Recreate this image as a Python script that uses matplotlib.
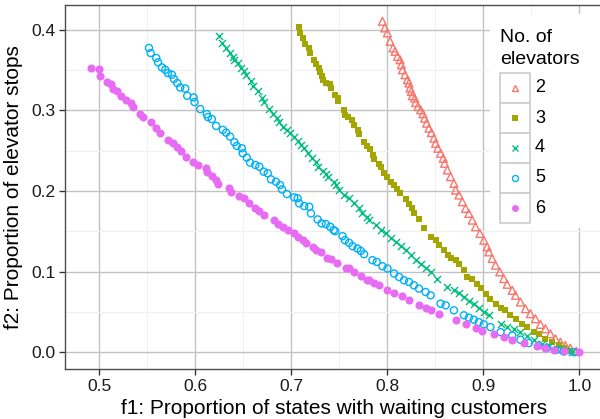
import matplotlib
matplotlib.use("Agg")
import matplotlib.pyplot as plt
from matplotlib.lines import Line2D
from matplotlib.patches import Rectangle
from matplotlib.ticker import MultipleLocator

plt.rcParams['font.family'] = ['Liberation Sans', 'DejaVu Sans']

categories = ["2", "3", "4", "5", "6"]
colors = ["#F8766D", "#A3A500", "#00BF7D", "#00B0F6", "#E76BF3"]

x2 = [0.7949,0.7973,0.8001,0.8028,0.8059,0.8080,0.8105,0.8132,0.8146,0.8157,0.8184,0.8209,0.8225,0.8236,0.8250,0.8260,0.8284,0.8295,0.8319,0.8347,0.8371,0.8388,0.8409,0.8433,0.8458,0.8485,0.8502,0.8526,0.8554,0.8582,0.8596,0.8624,0.8658,0.8693,0.8710,0.8745,0.8780,0.8814,0.8848,0.8884,0.8918,0.8963,0.9004,0.9039,0.9056,0.9091,0.9126,0.9170,0.9212,0.9247,0.9300,0.9334,0.9385,0.9437,0.9489,0.9541,0.9593,0.9645,0.9697,0.9749,0.9801,0.9853,0.9904,0.9966]
y2 = [0.4103,0.4021,0.3959,0.3855,0.3773,0.3731,0.3668,0.3627,0.3565,0.3503,0.3441,0.3379,0.3338,0.3276,0.3234,0.3180,0.3151,0.3097,0.3047,0.3006,0.2957,0.2903,0.2841,0.2779,0.2724,0.2655,0.2592,0.2530,0.2468,0.2406,0.2344,0.2261,0.2178,0.2095,0.2012,0.1950,0.1867,0.1785,0.1723,0.1640,0.1557,0.1474,0.1391,0.1308,0.1246,0.1164,0.1081,0.0998,0.0915,0.0845,0.0770,0.0708,0.0625,0.0542,0.0480,0.0418,0.0348,0.0294,0.0232,0.0170,0.0128,0.0087,0.0053,0.0016]

x3 = [0.7076,0.7093,0.7118,0.7145,0.7187,0.7197,0.7239,0.7257,0.7285,0.7298,0.7319,0.7326,0.7360,0.7402,0.7412,0.7454,0.7482,0.7488,0.7544,0.7561,0.7586,0.7627,0.7648,0.7690,0.7706,0.7758,0.7787,0.7821,0.7846,0.7863,0.7914,0.7932,0.7960,0.7994,0.8035,0.8070,0.8105,0.8132,0.8191,0.8225,0.8260,0.8277,0.8329,0.8381,0.8450,0.8502,0.8537,0.8589,0.8630,0.8658,0.8710,0.8745,0.8797,0.8832,0.8884,0.8936,0.8970,0.9022,0.9073,0.9126,0.9178,0.9220,0.9275,0.9334,0.9403,0.9455,0.9524,0.9576,0.9645,0.9714,0.9783,0.9835,0.9904]
y3 = [0.4034,0.3959,0.3897,0.3826,0.3773,0.3710,0.3627,0.3578,0.3524,0.3470,0.3420,0.3379,0.3338,0.3325,0.3276,0.3193,0.3151,0.3110,0.2998,0.2944,0.2916,0.2882,0.2820,0.2758,0.2708,0.2613,0.2559,0.2518,0.2447,0.2394,0.2335,0.2294,0.2220,0.2178,0.2115,0.2075,0.2020,0.1971,0.1897,0.1839,0.1785,0.1723,0.1648,0.1537,0.1433,0.1391,0.1329,0.1267,0.1205,0.1176,0.1151,0.1093,0.1027,0.0935,0.0907,0.0853,0.0803,0.0729,0.0666,0.0604,0.0555,0.0522,0.0460,0.0418,0.0357,0.0314,0.0252,0.0224,0.0170,0.0128,0.0087,0.0058,0.0016]

x4 = [0.6253,0.6277,0.6322,0.6367,0.6391,0.6408,0.6443,0.6478,0.6512,0.6530,0.6581,0.6599,0.6651,0.6692,0.6720,0.6771,0.6806,0.6851,0.6875,0.6910,0.6955,0.6990,0.7031,0.7066,0.7101,0.7129,0.7170,0.7212,0.7256,0.7280,0.7326,0.7360,0.7378,0.7447,0.7464,0.7499,0.7550,0.7602,0.7654,0.7706,0.7741,0.7785,0.7810,0.7880,0.7932,0.7983,0.8035,0.8087,0.8139,0.8191,0.8243,0.8295,0.8347,0.8398,0.8450,0.8520,0.8624,0.8693,0.8745,0.8797,0.8848,0.8900,0.8952,0.9004,0.9056,0.9178,0.9247,0.9316,0.9385,0.9455,0.9524,0.9611,0.9679,0.9767,0.9853,0.9922]
y4 = [0.3917,0.3835,0.3772,0.3710,0.3661,0.3619,0.3586,0.3524,0.3482,0.3441,0.3358,0.3296,0.3234,0.3151,0.3097,0.3015,0.2957,0.2903,0.2861,0.2799,0.2758,0.2717,0.2667,0.2625,0.2571,0.2530,0.2468,0.2406,0.2364,0.2302,0.2252,0.2211,0.2170,0.2115,0.2075,0.2012,0.1950,0.1910,0.1855,0.1785,0.1730,0.1673,0.1640,0.1578,0.1516,0.1474,0.1412,0.1370,0.1317,0.1267,0.1205,0.1143,0.1102,0.1052,0.0998,0.0915,0.0811,0.0770,0.0737,0.0687,0.0637,0.0596,0.0555,0.0501,0.0468,0.0357,0.0314,0.0294,0.0252,0.0199,0.0158,0.0108,0.0075,0.0046,0.0025,0.0009]

x5 = [0.5519,0.5536,0.5595,0.5613,0.5654,0.5688,0.5716,0.5758,0.5779,0.5813,0.5844,0.5896,0.5917,0.5983,0.5993,0.6052,0.6121,0.6132,0.6173,0.6218,0.6288,0.6322,0.6363,0.6408,0.6433,0.6485,0.6495,0.6537,0.6571,0.6626,0.6668,0.6713,0.6755,0.6789,0.6841,0.6883,0.6903,0.6955,0.7031,0.7066,0.7083,0.7135,0.7187,0.7205,0.7274,0.7316,0.7360,0.7405,0.7440,0.7457,0.7534,0.7558,0.7602,0.7638,0.7689,0.7724,0.7758,0.7845,0.7890,0.7949,0.8001,0.8070,0.8122,0.8174,0.8225,0.8277,0.8329,0.8398,0.8450,0.8554,0.8607,0.8693,0.8797,0.8848,0.8900,0.8952,0.9004,0.9073,0.9178,0.9300,0.9385,0.9472,0.9576,0.9663,0.9767,0.9835,0.9939]
y5 = [0.3773,0.3710,0.3648,0.3594,0.3532,0.3503,0.3462,0.3441,0.3388,0.3338,0.3283,0.3271,0.3180,0.3160,0.3102,0.3015,0.2953,0.2916,0.2891,0.2807,0.2758,0.2724,0.2675,0.2605,0.2559,0.2530,0.2468,0.2414,0.2352,0.2323,0.2302,0.2240,0.2220,0.2145,0.2115,0.2075,0.2020,0.1963,0.1921,0.1910,0.1847,0.1814,0.1805,0.1723,0.1648,0.1599,0.1590,0.1557,0.1516,0.1503,0.1441,0.1391,0.1358,0.1317,0.1288,0.1258,0.1217,0.1143,0.1122,0.1068,0.1040,0.0978,0.0935,0.0894,0.0873,0.0832,0.0791,0.0749,0.0708,0.0605,0.0584,0.0522,0.0460,0.0431,0.0406,0.0376,0.0348,0.0314,0.0252,0.0211,0.0158,0.0116,0.0087,0.0058,0.0034,0.0012,0.0004]

x6 = [0.4920,0.5000,0.5014,0.5086,0.5128,0.5145,0.5190,0.5230,0.5280,0.5335,0.5350,0.5430,0.5457,0.5543,0.5595,0.5630,0.5716,0.5768,0.5813,0.5855,0.5906,0.5976,0.6028,0.6114,0.6120,0.6170,0.6218,0.6235,0.6356,0.6374,0.6454,0.6510,0.6564,0.6623,0.6668,0.6713,0.6817,0.6858,0.6910,0.6962,0.7031,0.7066,0.7118,0.7153,0.7222,0.7257,0.7308,0.7368,0.7412,0.7480,0.7568,0.7600,0.7654,0.7723,0.7793,0.7810,0.7860,0.7914,0.8000,0.8070,0.8157,0.8225,0.8330,0.8400,0.8450,0.8537,0.8710,0.8814,0.8918,0.8987,0.9108,0.9212,0.9300,0.9420,0.9559,0.9645,0.9731,0.9835,0.9990]
y6 = [0.3520,0.3516,0.3420,0.3345,0.3320,0.3267,0.3234,0.3180,0.3130,0.3090,0.3040,0.2957,0.2916,0.2853,0.2780,0.2717,0.2634,0.2590,0.2550,0.2500,0.2426,0.2364,0.2323,0.2280,0.2240,0.2186,0.2137,0.2087,0.2041,0.1990,0.1938,0.1910,0.1855,0.1785,0.1755,0.1700,0.1640,0.1590,0.1557,0.1516,0.1474,0.1425,0.1390,0.1350,0.1308,0.1267,0.1246,0.1176,0.1164,0.1110,0.1050,0.1047,0.0998,0.0948,0.0903,0.0894,0.0860,0.0832,0.0770,0.0737,0.0696,0.0646,0.0584,0.0550,0.0522,0.0480,0.0398,0.0348,0.0302,0.0265,0.0224,0.0190,0.0158,0.0116,0.0078,0.0053,0.0034,0.0016,0.0000]

xticks = [0.5, 0.6, 0.7, 0.8, 0.9, 1.0]
yticks = [0.0, 0.1, 0.2, 0.3, 0.4]

series_x = [x2, x3, x4, x5, x6]
series_y = [y2, y3, y4, y5, y6]
markers = ["^", "s", "x", "o", "o"]
filled = [False, True, True, False, True]
sizes = [32, 24, 26, 26, 34]

W, H = 600, 419
fig = plt.figure(figsize=(W / 100, H / 100), dpi=100)

def fx(px):
    return px / W

def fy(py):
    return 1 - py / H

left_px, right_px, top_px, bottom_px = 65, 604, 5, 369
ax = fig.add_axes([fx(left_px), fy(bottom_px), (right_px - left_px) / W, (bottom_px - top_px) / H])
ax.set_xlim(0.4645, 1.0255)
ax.set_ylim(-0.0205, 0.4305)

ax.set_xticks(xticks)
ax.set_xticklabels([f"{v:.1f}" for v in xticks])
ax.set_yticks(yticks)
ax.set_yticklabels([f"{v:.1f}" for v in yticks])
ax.xaxis.set_minor_locator(MultipleLocator(0.05))
ax.yaxis.set_minor_locator(MultipleLocator(0.05))
ax.grid(True, which='major', color='#c2c2c2', linewidth=1.0)
ax.grid(True, which='minor', color='#f0f0f0', linewidth=0.8)
ax.set_axisbelow(True)
ax.tick_params(which='minor', length=0)
ax.tick_params(which='major', direction='out', length=4, width=1, color='#333333',
               labelsize=12.5, labelcolor='#1a1a1a', pad=3)
for s in ax.spines.values():
    s.set_color('#4d4d4d')
    s.set_linewidth(1.0)

for xs, ys, m, f, c, sz in zip(series_x, series_y, markers, filled, colors, sizes):
    if m == "x":
        ax.scatter(xs, ys, marker=m, s=sz, color=c, linewidths=1.0, zorder=3)
    elif f:
        ax.scatter(xs, ys, marker=m, s=sz, color=c, linewidths=0, zorder=3)
    else:
        ax.scatter(xs, ys, marker=m, s=sz, facecolors='none', edgecolors=c, linewidths=1.0, zorder=3)

ax.set_xlabel("f1: Proportion of states with waiting customers", fontsize=15, labelpad=4, color='#000000')
ax.set_ylabel("f2: Proportion of elevator stops", fontsize=15, labelpad=6, color='#000000')

# legend (manual, ggplot style)
fig.add_artist(Rectangle((fx(490), fy(228)), fx(120), (228 - 14) / H, transform=fig.transFigure,
                         facecolor='white', edgecolor='none', zorder=5))
fig.text(fx(500), fy(37), "No. of", fontsize=14, va='center', ha='left', zorder=6)
fig.text(fx(500), fy(59), "elevators", fontsize=14, va='center', ha='left', zorder=6)
key_y0 = 73
key_h = 30
for i, (lab, m, f, c, sz) in enumerate(zip(categories, markers, filled, colors, sizes)):
    top = key_y0 + i * key_h
    fig.add_artist(Rectangle((fx(500.5), fy(top + key_h)), fx(29.5), key_h / H, transform=fig.transFigure,
                             facecolor='white', edgecolor='#cccccc', linewidth=1.2, zorder=6))
    cy = top + key_h / 2
    ms = (sz ** 0.5) * 0.85
    if m == "x":
        ln = Line2D([fx(515)], [fy(cy)], marker=m, color=c, markersize=ms, markeredgewidth=1.0,
                    linestyle='none', transform=fig.transFigure, zorder=7)
    elif f:
        ln = Line2D([fx(515)], [fy(cy)], marker=m, color=c, markersize=ms, markeredgewidth=0,
                    linestyle='none', transform=fig.transFigure, zorder=7)
    else:
        ln = Line2D([fx(515)], [fy(cy)], marker=m, markerfacecolor='none', markeredgecolor=c,
                    markersize=ms, markeredgewidth=1.0, linestyle='none', transform=fig.transFigure, zorder=7)
    fig.add_artist(ln)
    fig.text(fx(535), fy(cy), lab, fontsize=13, va='center', ha='left', zorder=7)

fig.savefig("out.png", dpi=100)
